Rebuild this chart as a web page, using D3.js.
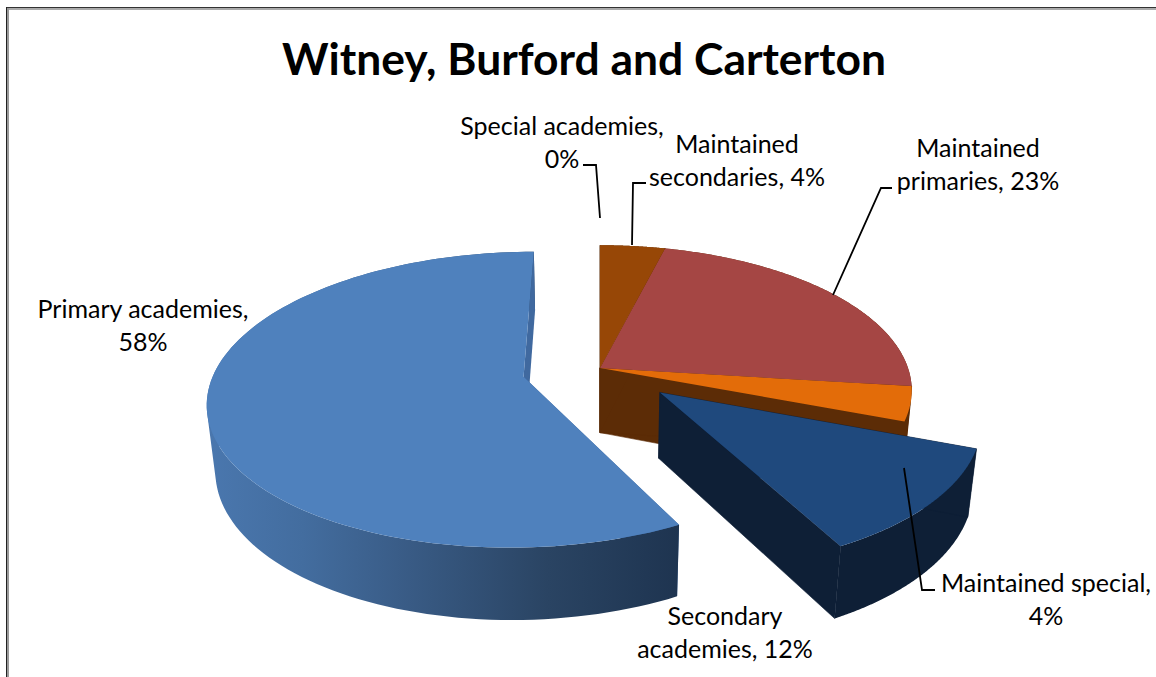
<!DOCTYPE html>
<html><head><meta charset="utf-8">
<style>html,body{margin:0;padding:0;background:#fff}svg{display:block}text{font-family:Lato,sans-serif;fill:#000}</style>
<script src="https://cdnjs.cloudflare.com/ajax/libs/d3/7.8.5/d3.min.js"></script>
</head><body><svg id="c" width="1156" height="677"></svg>
<script>
const title = "Witney, Burford and Carterton";
const categories = ["Special academies","Maintained secondaries","Maintained primaries","Maintained special","Secondary academies","Primary academies"];
const values = [0,3.9,23.1,3.8,11.5,57.7];
const explosion = [0,0,0,0,78,78];
const topColors = ["#974706","#974706","#a54644","#e36c09","#1f497d","#4f81bd"];
const sideColors = ["#5c2c06","#5c2c06","#5c2c06","#5c2c06","#0e1f36","url(#blueSide)"];
const wallColors = ["#5c2c06","#5c2c06","#5c2c06","#5c2c06","#0e1f36","#40699f"];
const labelLines = [["Special academies,","0%"],["Maintained","secondaries, 4%"],["Maintained","primaries, 23%"],["Maintained special,","4%"],["Secondary","academies, 12%"],["Primary academies,","58%"]];
const labelPos = [[562,135],[737,153],[978,157],[1046,592],[725,625],[143,318]];
const leaders = [[[583,165],[596,165],[600,218]],[[646,183],[633,183],[632,245]],[[892,188],[881,188],[833,295]],[[935,590],[922,590],[904,468]]];

const svg = d3.select("#c");
const CX=600, CY=368, R=308, K=0.46, D=2000, H=66, BD=43;
const defs = svg.append("defs");
const g = defs.append("linearGradient").attr("id","blueSide").attr("gradientUnits","userSpaceOnUse")
  .attr("x1",208).attr("x2",680).attr("y1",0).attr("y2",0);
[[0,"#4a77ae"],[0.2,"#436d9f"],[0.4,"#3a5d88"],[0.72,"#2a4463"],[1,"#1e3450"]].forEach(s=>g.append("stop").attr("offset",s[0]).attr("stop-color",s[1]));

// frame
svg.append("rect").attr("x",6).attr("y",7).attr("width",1150).attr("height",1).attr("fill","#333");
svg.append("rect").attr("x",7).attr("y",8).attr("width",1149).attr("height",2).attr("fill","#aaa");
svg.append("rect").attr("x",6).attr("y",7).attr("width",1).attr("height",670).attr("fill","#222");
svg.append("rect").attr("x",7).attr("y",8).attr("width",2).attr("height",669).attr("fill","#999");

const pie = d3.pie().sort(null).value(d=>d)(values);
const line = d3.line().x(d=>d[0]).y(d=>d[1]);
function proj(X,Z,low){
  const s = 1/(1+(Z+(low?BD:0))/D);
  return [CX+X*s, CY+(-K*Z+(low?H:0))*s];
}
function sliceGeo(i){
  const a0=pie[i].startAngle,a1=pie[i].endAngle,m=(a0+a1)/2,e=explosion[i];
  const ox=e*Math.sin(m),oz=e*Math.cos(m);
  const pt=(r,t,low)=>proj(ox+r*Math.sin(t),oz+r*Math.cos(t),low);
  const ts=d3.range(0,121).map(j=>a0+(a1-a0)*j/120);
  return {pt,ts,a0,a1};
}
function drawSides(i){
  const {pt,ts,a0,a1}=sliceGeo(i);
  const solid = i<5;
  const wall=a=>{
    const w=[pt(0,a),pt(R,a),pt(R,a,true),pt(0,a,true)];
    const p=svg.append("path").attr("d",line(w)+"Z").attr("fill",wallColors[i]);
    if(solid) p.attr("stroke",wallColors[i]).attr("stroke-width",0.6);
  };
  if(i===5) wall(a0);
  // rim as one compound path of equally wound quads, so the fold at the silhouette stays filled
  const d=d3.pairs(ts).map(([t0,t1])=>{
    const q=[pt(R,t0),pt(R,t1),pt(R,t1,true),pt(R,t0,true)];
    if(d3.polygonArea(q)<0) q.reverse();
    return line(q)+"Z";
  }).join("");
  svg.append("path").attr("d",d).attr("fill",sideColors[i]);
  if(i!==5) wall(a0);
  wall(a1);
}
function drawTop(i){
  const {pt,ts}=sliceGeo(i);
  const poly=[pt(0,0)].concat(ts.map(t=>pt(R,t)));
  svg.append("path").attr("d",line(poly)+"Z").attr("fill",topColors[i]);
}
[3,2,1].forEach(drawSides);
[3,2,1].forEach(drawTop);
[5,4].forEach(i=>{drawSides(i);drawTop(i);});

// leaders
leaders.forEach(l=>svg.append("path").attr("d",line(l)).attr("fill","none").attr("stroke","#000").attr("stroke-width",1.8));

// title + labels
svg.append("text").attr("x",584).attr("y",75).attr("text-anchor","middle").attr("font-size",44.4).attr("font-weight",700).text(title);
labelLines.forEach((ls,i)=>{
  ls.forEach((t,j)=>svg.append("text").attr("x",labelPos[i][0]).attr("y",labelPos[i][1]+j*33)
    .attr("text-anchor","middle").attr("font-size",25).text(t));
});
</script></body></html>
